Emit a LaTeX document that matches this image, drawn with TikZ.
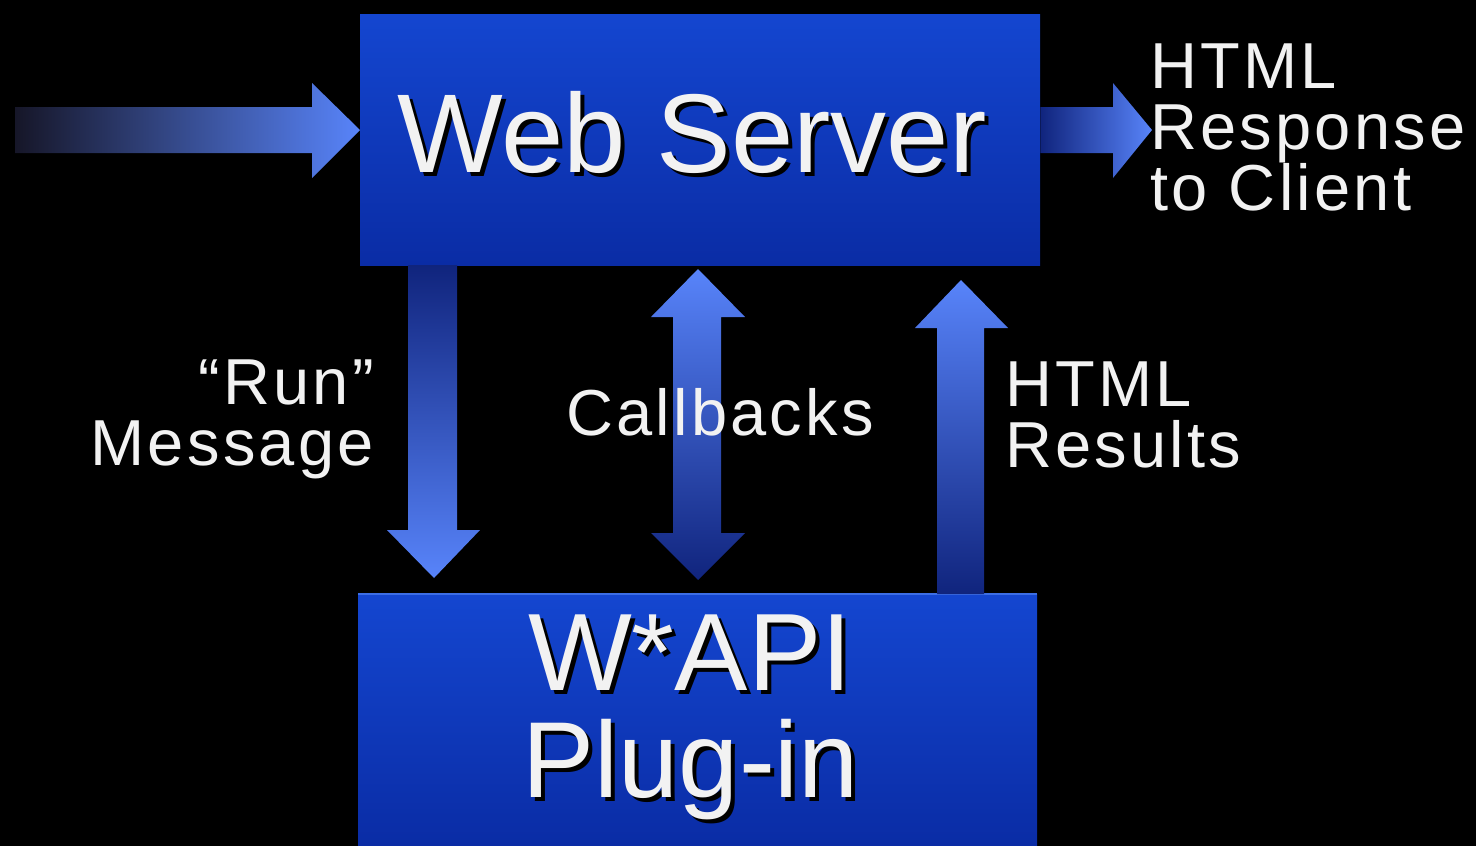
\documentclass[tikz,border=0pt]{standalone}
\usepackage{fontspec}
\setmainfont{Liberation Sans}
\newfontfamily\lblfont[LetterSpace=5]{Liberation Sans}
\definecolor{lightarrow}{RGB}{88,132,250}
\definecolor{darkarrow}{RGB}{16,36,125}
\definecolor{boxtop}{RGB}{20,70,208}
\definecolor{boxbot}{RGB}{10,44,165}
\definecolor{txtwhite}{RGB}{242,242,242}
\newcommand\shtext[1]{\leavevmode\rlap{\hspace{4pt}\raisebox{-4pt}{\color{black}#1}}#1}
\begin{document}
\begin{tikzpicture}[x=1pt,y=-1pt,
  boxstyle/.style={rectangle, inner sep=0pt, top color=boxtop, bottom color=boxbot, draw=none},
  boxtext/.style={text=txtwhite, inner sep=0pt, anchor=base},
  lbl/.style={text=txtwhite, inner sep=0pt, font=\lblfont\fontsize{65}{61}\selectfont}
]
\useasboundingbox[fill=black] (0,0) rectangle (1476,846);

% boxes
\node[boxstyle, minimum width=680pt, minimum height=251pt, anchor=north west] (web) at (360,14) {};
\node[boxstyle, minimum width=679pt, minimum height=252pt, anchor=north west] (wapi) at (358,594) {};
\draw[line width=2pt, color={rgb,255:red,60;green,110;blue,230}] (wapi.north west) -- (wapi.north east);

% arrows
\shade[left color={rgb,255:red,22;green,22;blue,40}, right color=lightarrow]
  (15,107) -- (312,107) -- (312,83) -- (web.west |- 0,130) -- (312,178) -- (312,153) -- (15,153) -- cycle;
\shade[left color=darkarrow, right color=lightarrow]
  (web.east |- 0,107) -- (1113,107) -- (1113,83) -- (1152,130) -- (1113,178) -- (1113,153) -- (web.east |- 0,153) -- cycle;
\shade[top color=darkarrow, bottom color=lightarrow]
  (408,265) -- (457,265) -- (457,530) -- (480,530) -- (434,578) -- (387,530) -- (408,530) -- cycle;
\shade[top color=lightarrow, bottom color=darkarrow]
  (698,269) -- (745,317) -- (721,317) -- (721,533) -- (745,533) -- (698,580) -- (651,533) -- (673,533) -- (673,317) -- (651,317) -- cycle;
\shade[top color=lightarrow, bottom color=darkarrow]
  (961,280) -- (1008,328) -- (984,328) -- (984,594) -- (937,594) -- (937,328) -- (915,328) -- cycle;

% box texts
\node[boxtext, font=\fontsize{112}{120}\selectfont] (webtxt) at (692,172) {\shtext{Web Server}};
\node[boxtext, font=\fontsize{110}{107}\selectfont] (wapitxtA) at (690,690) {\shtext{W*API}};
\node[boxtext, font=\fontsize{108}{107}\selectfont] (wapitxtB) at (691,797) {\shtext{Plug-in}};

% labels
\node[lbl, align=left, anchor=base west] (resp) at (1150,210) {HTML\\Response\\to Client};
\node[lbl, align=right, anchor=base east] (run) at (374,465) {“Run”\\Message};
\node[lbl, anchor=base] (cb) at (720,435) {Callbacks};
\node[lbl, align=left, anchor=base west] (res) at (1005,467) {HTML\\Results};
\end{tikzpicture}
\end{document}
